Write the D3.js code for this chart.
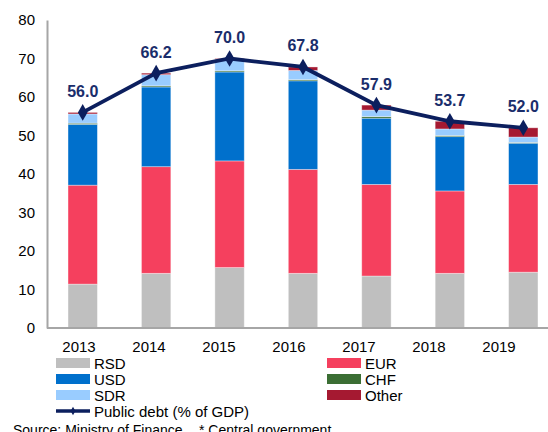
<!DOCTYPE html>
<html>
<head>
<meta charset="utf-8">
<script src="https://cdn.jsdelivr.net/npm/d3@7"></script>
<style>
  body { margin: 0; background: #fff; }
  text { font-family: "Liberation Sans", Arial, sans-serif; }
</style>
</head>
<body>
<div id="chart"></div>
<script>
var years = ['2013', '2014', '2015', '2016', '2017', '2018', '2019'];
var rsd   = [11.4, 14.2, 15.7, 14.2, 13.5, 14.2, 14.5];
var eur   = [25.7, 27.7, 27.7, 27.0, 23.8, 21.4, 22.8];
var usd   = [15.8, 20.7, 23.1, 23.0, 17.2, 14.1, 10.7];
var chf   = [0.3, 0.3, 0.3, 0.3, 0.4, 0.3, 0.2];
var sdr   = [2.4, 2.9, 3.0, 2.4, 1.7, 1.7, 1.4];
var other = [0.4, 0.4, 0.2, 0.9, 1.3, 2.0, 2.4];
var debt  = [56.0, 66.2, 70.0, 67.8, 57.9, 53.7, 52.0];
var yTicks = [0, 10, 20, 30, 40, 50, 60, 70, 80];

var keys = ['RSD', 'EUR', 'USD', 'CHF', 'SDR', 'Other'];
var colors = {RSD: '#bfbfbf', EUR: '#f5405e', USD: '#0070cc', CHF: '#3b6e34', SDR: '#99ccff', Other: '#a51931'};
var lineColor = '#0c1f5e';

var data = years.map(function(y, i) {
  return {year: y, RSD: rsd[i], EUR: eur[i], USD: usd[i], CHF: chf[i], SDR: sdr[i], Other: other[i], debt: debt[i]};
});

var W = 548, H = 432;
var margin = {top: 20, left: 47};
var plotBottom = 328;

var svg = d3.select('#chart').append('svg')
  .attr('width', W)
  .attr('height', H);

// scales
// bars sit on x, the year labels on their own slightly tighter band (as in the original)
var x = d3.scaleBand().domain(years).range([46, 560]).paddingInner(0.6).paddingOuter(0.3),
    xLab = d3.scaleBand().domain(years).range([44, 534]),
    y = d3.scaleLinear().domain([0, 80]).range([plotBottom, margin.top]);

var layers = d3.stack().keys(keys)(data);

var g = svg.selectAll('.layer')
  .data(layers)
  .enter().append('g')
  .attr('class', 'layer')
  .attr('fill', function(d) { return colors[d.key]; });

g.selectAll('rect')
  .data(function(d) { return d; })
  .enter().append('rect')
  .attr('x', function(d) { return x(d.data.year); })
  .attr('y', function(d) { return y(d[1]); })
  .attr('width', x.bandwidth())
  .attr('height', function(d) { return y(d[0]) - y(d[1]); })
  .attr('stroke', '#ffffff')
  .attr('stroke-opacity', 0.45)
  .attr('stroke-width', 0.8);

// y axis
var yAxis = svg.append('g')
  .attr('transform', 'translate(' + margin.left + ',0)')
  .call(d3.axisLeft(y).tickValues(yTicks).tickSize(0).tickPadding(12));
yAxis.select('.domain').attr('stroke', '#a6a6a6').attr('stroke-width', 2);
yAxis.selectAll('text').attr('font-size', 15).attr('fill', '#000')
  .style('font-family', '"Liberation Sans", Arial, sans-serif');

// x axis
var xAxis = svg.append('g')
  .attr('transform', 'translate(0,' + plotBottom + ')')
  .call(d3.axisBottom(xLab).tickSize(0).tickPadding(13));
xAxis.select('.domain').attr('d', 'M' + margin.left + ',0H' + W)
  .attr('stroke', '#a6a6a6').attr('stroke-width', 2);
xAxis.selectAll('text').attr('font-size', 15).attr('fill', '#000')
  .style('font-family', '"Liberation Sans", Arial, sans-serif');

// debt line
var cx = function(d) { return x(d.year) + x.bandwidth() / 2; };
var line = d3.line().x(cx).y(function(d) { return y(d.debt); });

svg.append('path')
  .datum(data)
  .attr('d', line)
  .attr('fill', 'none')
  .attr('stroke', lineColor)
  .attr('stroke-width', 3.8);

svg.selectAll('.marker')
  .data(data)
  .enter().append('path')
  .attr('class', 'marker')
  .attr('d', d3.symbol().type(d3.symbolDiamond).size(80))
  .attr('transform', function(d) { return 'translate(' + cx(d) + ',' + y(d.debt) + ')'; })
  .attr('fill', lineColor);

svg.selectAll('.lbl')
  .data(data)
  .enter().append('text')
  .attr('class', 'lbl')
  .attr('x', cx)
  .attr('y', function(d) { return y(d.debt) - 15.5; })
  .attr('text-anchor', 'middle')
  .attr('font-size', 16)
  .attr('font-weight', 'bold')
  .attr('fill', '#1a2d6b')
  .text(function(d) { return d.debt.toFixed(1); });

// legend
var legendItems = [
  {key: 'RSD', col: 0, row: 0}, {key: 'EUR', col: 1, row: 0},
  {key: 'USD', col: 0, row: 1}, {key: 'CHF', col: 1, row: 1},
  {key: 'SDR', col: 0, row: 2}, {key: 'Other', col: 1, row: 2}
];
var colX = [56, 327], rowY = [363, 379, 395, 411];

var lg = svg.selectAll('.leg')
  .data(legendItems)
  .enter().append('g')
  .attr('class', 'leg')
  .attr('transform', function(d) { return 'translate(' + colX[d.col] + ',' + rowY[d.row] + ')'; });
lg.append('rect')
  .attr('x', 0).attr('y', -5).attr('width', 34).attr('height', 10)
  .attr('fill', function(d) { return colors[d.key]; });
lg.append('text')
  .attr('x', 38).attr('y', 5.5)
  .attr('font-size', 15)
  .text(function(d) { return d.key; });

var ll = svg.append('g').attr('transform', 'translate(' + colX[0] + ',' + rowY[3] + ')');
ll.append('line').attr('x1', 0).attr('x2', 34).attr('y1', 0).attr('y2', 0)
  .attr('stroke', lineColor).attr('stroke-width', 3.5);
ll.append('path').attr('d', d3.symbol().type(d3.symbolDiamond).size(20))
  .attr('transform', 'translate(17,0)').attr('fill', lineColor);
ll.append('text').attr('x', 38).attr('y', 5.5).attr('font-size', 15)
  .text('Public debt (% of GDP)');

// source
svg.append('text').attr('x', 13).attr('y', 434.5).attr('font-size', 14)
  .text('Source: Ministry of Finance');
svg.append('text').attr('x', 199).attr('y', 434.5).attr('font-size', 14)
  .text('* Central government');
</script>
</body>
</html>
